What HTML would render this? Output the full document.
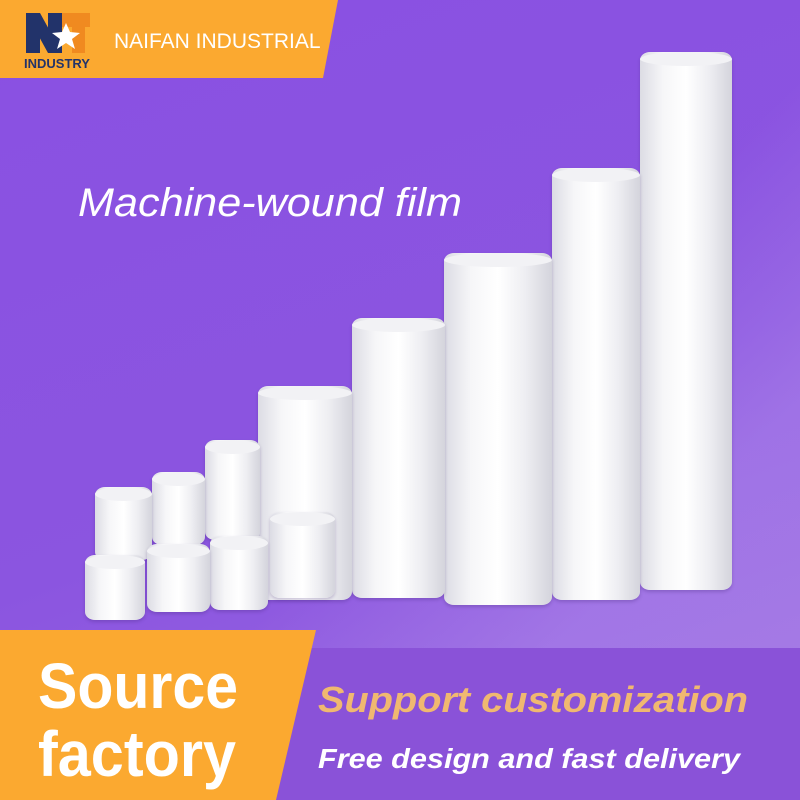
<!DOCTYPE html>
<html><head><style>
body{margin:0}
#c{position:relative;width:800px;height:800px;overflow:hidden;background:linear-gradient(160deg,#8a50e2 0%,#8b55e0 55%,#9a6ae0 100%);font-family:"Liberation Sans",sans-serif}
.r{position:absolute;background:linear-gradient(90deg,#dcdce4 0%,#f6f6f8 25%,#ffffff 50%,#eeeef2 75%,#d4d4dc 100%);border-radius:10px/8px;box-shadow:0 2px 3px rgba(60,30,110,.25)}
.r::before{content:"";position:absolute;left:0;right:0;top:0;height:14px;border-radius:50%;background:#f2f2f5}
</style></head><body><div id="c">
<div style="position:absolute;left:0;top:0;width:800px;height:800px;background:linear-gradient(135deg,transparent 55%,rgba(190,160,240,.35) 75%,rgba(200,175,240,.3) 100%)"></div>
<svg style="position:absolute;left:0;top:0" width="800" height="80"><polygon points="0,0 338,0 323,78 0,78" fill="#fba930"/>
<rect x="26" y="13" width="14" height="40" fill="#22336a"/><polygon points="26,13 40,13 62,53 48,53" fill="#22336a"/><rect x="62" y="13" width="28" height="14" fill="#f08a20"/><rect x="72" y="13" width="13" height="40" fill="#f08a20"/><rect x="48" y="13" width="14" height="40" fill="#22336a"/>
<polygon points="66,23 70,32 80,33 72,39 75,49 66,43 57,49 60,39 52,33 62,32" fill="#fff"/>
<text x="24" y="68" font-size="13" font-weight="bold" fill="#22336a" font-family="Liberation Sans">INDUSTRY</text>
<text x="114" y="48" font-size="21" fill="#fff" font-family="Liberation Sans">NAIFAN INDUSTRIAL</text></svg>
<svg style="position:absolute;left:0;top:160px" width="800" height="80"><text x="78" y="56" font-size="40" font-style="italic" fill="#fff" font-family="Liberation Sans" textLength="384" lengthAdjust="spacingAndGlyphs">Machine-wound film</text></svg>
<div class="r" style="left:640px;top:52px;width:92px;height:538px"></div>
<div class="r" style="left:552px;top:168px;width:88px;height:432px"></div>
<div class="r" style="left:444px;top:253px;width:108px;height:352px"></div>
<div class="r" style="left:352px;top:318px;width:93px;height:280px"></div>
<div class="r" style="left:258px;top:386px;width:94px;height:214px"></div>
<div class="r" style="left:205px;top:440px;width:55px;height:100px"></div>
<div class="r" style="left:152px;top:472px;width:53px;height:73px"></div>
<div class="r" style="left:95px;top:487px;width:57px;height:73px"></div>
<div class="r" style="left:270px;top:512px;width:65px;height:86px"></div>
<div class="r" style="left:210px;top:536px;width:58px;height:74px"></div>
<div class="r" style="left:147px;top:544px;width:63px;height:68px"></div>
<div class="r" style="left:85px;top:555px;width:60px;height:65px"></div>
<svg style="position:absolute;left:0;top:620px" width="800" height="180"><rect x="0" y="28" width="800" height="152" fill="#8a52d8"/><polygon points="0,10 316,10 276,180 0,180" fill="#fba930"/>
<text x="38" y="88" font-size="64" font-weight="bold" fill="#fff" font-family="Liberation Sans" textLength="200" lengthAdjust="spacingAndGlyphs">Source</text>
<text x="38" y="156" font-size="64" font-weight="bold" fill="#fff" font-family="Liberation Sans" textLength="198" lengthAdjust="spacingAndGlyphs">factory</text>
<text x="318" y="92" font-size="36" font-style="italic" font-weight="bold" fill="#f0b870" font-family="Liberation Sans" textLength="430" lengthAdjust="spacingAndGlyphs">Support customization</text>
<text x="318" y="148" font-size="28" font-style="italic" font-weight="bold" fill="#fff" font-family="Liberation Sans" textLength="422" lengthAdjust="spacingAndGlyphs">Free design and fast delivery</text></svg>
</div></body></html>
